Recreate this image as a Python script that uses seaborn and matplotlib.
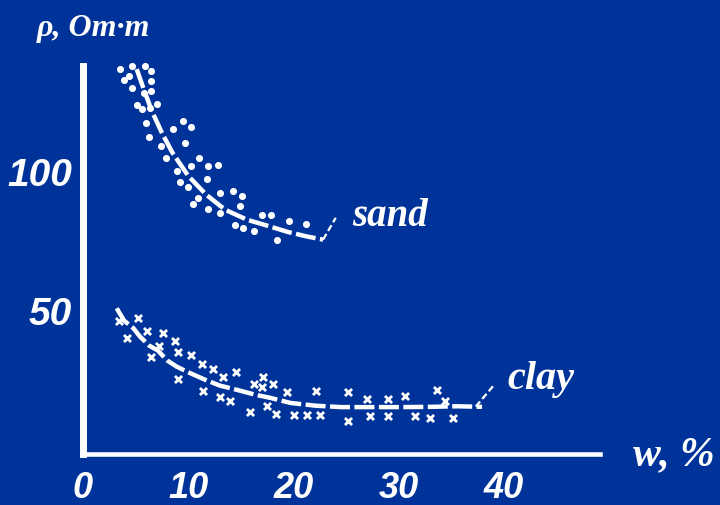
import numpy as np
import pandas as pd
import matplotlib
matplotlib.use("Agg")
import matplotlib.pyplot as plt
import seaborn as sns

# ---- data ----
sand_w = [3.5, 4.7, 5.9, 6.5, 4.4, 3.9, 6.5, 4.7, 6.5, 5.8, 5.1, 5.6, 7.0, 6.4, 6.0,
          9.5, 10.3, 8.5, 6.3, 9.7, 7.4, 7.9, 11.0, 10.3, 11.9, 12.8, 8.9, 11.8, 9.2, 10.0,
          13.0, 14.2, 15.1, 10.9, 10.4, 14.9, 11.9, 13.0, 17.0, 17.9, 19.6, 14.4, 15.2, 16.2,
          21.2, 18.4]
sand_rho = [137.9, 138.9, 138.9, 137.1, 135.4, 133.9, 133.6, 131.1, 130.0, 129.3, 125.0,
            123.6, 125.4, 123.9, 118.6, 119.3, 117.1, 116.4, 113.6, 111.4, 110.4, 106.1,
            106.1, 103.2, 103.2, 103.6, 101.4, 98.6, 97.5, 95.7, 93.6, 94.3, 92.5, 91.8,
            89.6, 88.9, 87.9, 86.4, 85.7, 85.7, 83.6, 82.1, 81.1, 80.0, 82.5, 76.8]

clay_w = [3.4, 5.2, 4.2, 6.1, 7.6, 8.7, 7.2, 9.0, 6.5, 10.3, 11.3, 12.3, 13.3, 14.5, 9.0,
          11.4, 13.0, 14.0, 16.2, 17.1, 18.0, 17.0, 17.5, 15.9, 18.3, 19.4, 20.0, 21.3,
          22.1, 22.5, 25.2, 25.2, 27.0, 27.3, 29.0, 29.0, 30.6, 31.5, 33.0, 33.6, 34.4, 35.1]
clay_rho = [47.5, 48.9, 41.4, 43.9, 43.2, 40.6, 38.8, 36.7, 34.9, 35.3, 32.4, 30.6, 27.7,
            29.5, 27.0, 22.7, 20.5, 19.1, 25.2, 27.7, 25.2, 24.1, 17.3, 15.1, 14.4, 22.3,
            14.0, 14.0, 22.7, 14.0, 22.3, 11.9, 19.8, 13.7, 19.8, 13.7, 20.9, 13.7, 13.0,
            23.0, 19.1, 13.0]

sand_fit_w = [5.1, 5.6, 6.5, 7.5, 8.5, 10.0, 11.7, 13.5, 15.6, 17.5, 19.4, 21.3, 22.8]
sand_fit_rho = [137.9, 132.5, 123.2, 115.0, 107.9, 99.6, 92.9, 87.5, 83.9, 81.8, 79.6, 77.9, 76.8]

clay_fit_w = [3.2, 3.9, 4.8, 5.4, 6.3, 7.1, 8.0, 8.9, 10.1, 11.6, 13.0, 14.6, 16.4, 17.8,
              19.7, 22.1, 24.5, 27.4, 30.2, 33.1, 35.5, 37.9]
clay_fit_rho = [52.2, 47.8, 45.0, 42.1, 38.8, 37.1, 33.5, 31.3, 29.1, 26.6, 24.5, 23.0,
                21.2, 20.1, 18.3, 17.3, 16.8, 16.8, 16.8, 16.9, 17.1, 16.9]

sand_leader_w = [22.8, 24.0]
sand_leader_rho = [76.8, 84.6]
clay_leader_w = [37.3, 39.1]
clay_leader_rho = [17.0, 25.0]

x_ticks = [0, 10, 20, 30, 40]
x_tick_labels = ["0", "10", "20", "30", "40"]
y_ticks = [50, 100]
y_tick_labels = ["50", "100"]
y_minor = [25, 75, 125]

BG = "#003399"
W = "white"

sns.set_theme(style="white")
plt.rcParams["font.family"] = ["Liberation Sans", "DejaVu Sans"]

fig = plt.figure(figsize=(7.2, 5.06), dpi=100, facecolor=BG)
ax = fig.add_axes([83 / 720, 1 - 455 / 506, 517 / 720, (455 - 67) / 506])
ax.set_facecolor(BG)

sand_df = pd.DataFrame({"w": sand_w, "rho": sand_rho})
clay_df = pd.DataFrame({"w": clay_w, "rho": clay_rho})
sand_fit = pd.DataFrame({"w": sand_fit_w, "rho": sand_fit_rho})
clay_fit = pd.DataFrame({"w": clay_fit_w, "rho": clay_fit_rho})

sns.lineplot(data=sand_fit, x="w", y="rho", ax=ax, color=W, lw=3.2, sort=False,
             linestyle=(0, (4.5, 1.0)), clip_on=False)
sns.lineplot(data=clay_fit, x="w", y="rho", ax=ax, color=W, lw=3.2, sort=False,
             linestyle=(0, (4.5, 1.0)), clip_on=False)
sns.lineplot(x=sand_leader_w, y=sand_leader_rho, ax=ax, color=W, lw=1.6,
             linestyle=(0, (3, 1.5)), clip_on=False)
sns.lineplot(x=clay_leader_w, y=clay_leader_rho, ax=ax, color=W, lw=1.6,
             linestyle=(0, (3, 1.5)), clip_on=False)

sns.scatterplot(data=sand_df, x="w", y="rho", ax=ax, color=W, s=26, marker="o",
                edgecolor=W, linewidth=0, clip_on=False)
sns.scatterplot(data=clay_df, x="w", y="rho", ax=ax, color=W, s=26, marker="x",
                linewidth=2.0, clip_on=False)

ax.set_xlim(0, 49.1)
ax.set_ylim(0, 139)
ax.set_xlabel("")
ax.set_ylabel("")

for s in ["top", "right"]:
    ax.spines[s].set_visible(False)
ax.spines["left"].set_color(W)
ax.spines["left"].set_linewidth(5)
ax.spines["bottom"].set_color(W)
ax.spines["bottom"].set_linewidth(3.3)

ax.set_xticks(x_ticks[1:])
ax.set_xticklabels([])
ax.set_yticks(y_ticks + y_minor)
ax.set_yticklabels([])
ax.tick_params(axis="x", direction="in", length=14, width=3.2, color=W)
ax.tick_params(axis="y", direction="in", length=12, width=3.4, color=W)

tick_font = dict(family=["Liberation Sans", "DejaVu Sans"], weight="bold",
                 style="italic", color=W)


def fx(px):
    return px / 720


def fy(py):
    return 1 - py / 506


for v, lab in zip(x_ticks, x_tick_labels):
    ax.annotate(lab, xy=(v, 0), xycoords="data", xytext=(0, -43),
                textcoords="offset pixels", ha="center", va="baseline",
                fontsize=26, **tick_font)
for v, lab in zip(y_ticks, y_tick_labels):
    ax.annotate(lab, xy=(0, v), xycoords="data", xytext=(-11, 0),
                textcoords="offset pixels", ha="right", va="center",
                fontsize=28, **tick_font)

serif = dict(family=["Liberation Serif", "DejaVu Serif"], weight="bold",
             style="italic", color=W)

fig.text(fx(37), fy(36), "ρ, Om·m", fontsize=23, ha="left", va="baseline", **serif)
fig.text(fx(352), fy(226), "sand", fontsize=28, ha="left", va="baseline", **serif)
fig.text(fx(507), fy(389), "clay", fontsize=29, ha="left", va="baseline", **serif)
fig.text(fx(633), fy(465), "w, %", fontsize=30, ha="left", va="baseline", **serif)

fig.savefig("out.png", dpi=100, facecolor=BG)
